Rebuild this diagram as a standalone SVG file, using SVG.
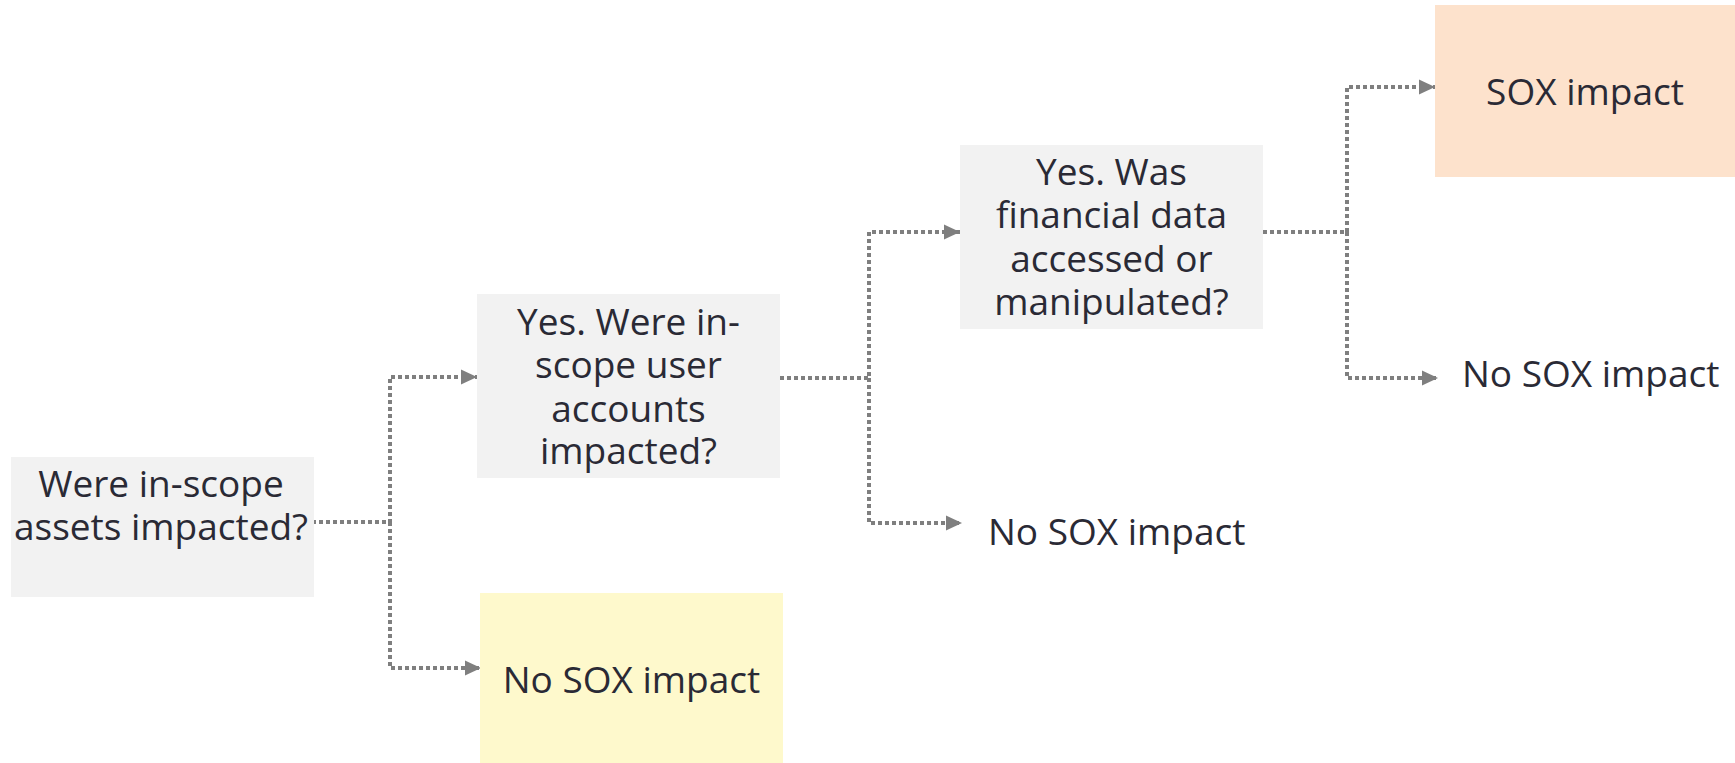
<svg xmlns="http://www.w3.org/2000/svg" width="1735" height="763" viewBox="0 0 1735 763">
  <style>
    .q { fill: #f2f2f2; }
    .yes { fill: #fde2cc; }
    .no { fill: #fef9cc; }
    text { font-family: "Open Sans", "Noto Sans", "Liberation Sans", sans-serif; font-size: 37px; fill: #2a2a35; }
    .c { text-anchor: middle; }
    .link { fill: none; stroke: #7f7f7f; stroke-width: 4; stroke-dasharray: 4 3; marker-end: url(#arrow); }
  </style>
  <defs>
    <marker id="arrow" markerUnits="userSpaceOnUse" markerWidth="17" markerHeight="16" refX="16" refY="8" orient="auto">
      <path d="M0,0.5 L16,8 L0,15.5 Z" fill="#7f7f7f"/>
    </marker>
  </defs>

  <rect width="1735" height="763" fill="#ffffff"/>

  <!-- dotted elbow connectors between the decision boxes -->
  <g id="connectors">
    <path class="link" d="M312,522 H390 V377 H477"/>
    <path class="link" d="M390,522 V668 H481"/>
    <path class="link" d="M780,378 H869 V232 H960"/>
    <path class="link" d="M869,378 V523 H962"/>
    <path class="link" d="M1263,232 H1347 V87 H1435"/>
    <path class="link" d="M1347,232 V378 H1438"/>
  </g>

  <g id="q-assets">
    <rect class="q" x="11" y="457" width="303" height="140"/>
    <text class="c" x="161" y="497">Were in-scope</text>
    <text class="c" x="161" y="540">assets impacted?</text>
  </g>

  <g id="q-accounts">
    <rect class="q" x="477" y="294" width="303" height="184"/>
    <text class="c" x="628.5" y="335">Yes. Were in-</text>
    <text class="c" x="628.5" y="378">scope user</text>
    <text class="c" x="628.5" y="422">accounts</text>
    <text class="c" x="628.5" y="464">impacted?</text>
  </g>

  <g id="q-financial">
    <rect class="q" x="960" y="145" width="303" height="184"/>
    <text class="c" x="1111.5" y="185">Yes. Was</text>
    <text class="c" x="1111.5" y="228">financial data</text>
    <text class="c" x="1111.5" y="272">accessed or</text>
    <text class="c" x="1111.5" y="315">manipulated?</text>
  </g>

  <g id="sox-impact">
    <rect class="yes" x="1435" y="5" width="300" height="172"/>
    <text class="c" x="1585" y="105">SOX impact</text>
  </g>

  <g id="no-sox-financial">
    <text x="1462" y="387">No SOX impact</text>
  </g>

  <g id="no-sox-accounts">
    <text x="988" y="545">No SOX impact</text>
  </g>

  <g id="no-sox-assets">
    <rect class="no" x="480" y="593" width="303" height="170"/>
    <text class="c" x="631.5" y="693">No SOX impact</text>
  </g>
</svg>
